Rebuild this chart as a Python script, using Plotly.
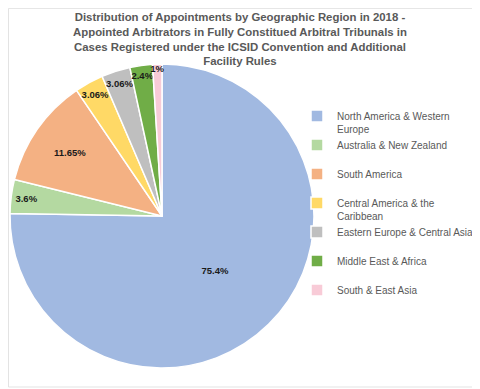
import plotly.graph_objects as go

regions = ["North America & Western<br>Europe", "Australia & New Zealand<br> ", "South America<br> ",
           "Central America & the<br>Caribbean", "Eastern Europe & Central Asia<br> ",
           "Middle East & Africa<br> ", "South & East Asia<br> "]
values = [75.4, 3.6, 11.65, 3.06, 3.06, 2.4, 1.0]
text_labels = ["<b>75.4%</b>", "<b>3.6%</b>", "<b>11.65%</b>", "<b>3.06%</b>", "<b>3.06%</b>", "<b>2.4%</b>", "<b>1%</b>"]
colors = ["#a1b9e1", "#b4d9a1", "#f4b183", "#ffd966", "#bfbfbf", "#70ad47", "#f8cbd7"]
title_lines = ["Distribution of Appointments by Geographic Region in 2018 -",
               "Appointed Arbitrators in Fully Constitued Arbitral Tribunals in",
               "Cases Registered under the ICSID Convention and Additional",
               "Facility Rules"]

# page has an 8px body margin; figure sized to fit the window
W, H, OFF = 472, 381, 8
def X(px): return (px - OFF) / W
def Y(py): return 1 - (py - OFF) / H

fig = go.Figure(go.Pie(
    labels=regions, values=values, text=text_labels, textinfo="text",
    sort=False, direction="clockwise", rotation=0,
    marker=dict(colors=colors, line=dict(color="white", width=1.5)),
    textposition="inside", insidetextorientation="horizontal",
    textfont=dict(family="Arial, Liberation Sans", size=9.5, color="#1a1a1a"),
    domain=dict(x=[X(10), X(314)], y=[Y(368), Y(64)]),
    hoverinfo="label+percent",
))
fig.add_annotation(
    text="<b>" + "<br>".join(title_lines) + "</b>",
    xref="paper", yref="paper", x=X(240), y=Y(9), xanchor="center", yanchor="top",
    showarrow=False, align="center",
    font=dict(family="Arial, Liberation Sans", size=11.4, color="#595959"),
)
fig.add_shape(type="rect", xref="paper", yref="paper",
              x0=0.001, x1=X(477), y0=Y(387), y1=0.999,
              line=dict(color="#e3e3e3", width=1), layer="below")
fig.update_layout(
    width=W, height=H, margin=dict(l=0, r=0, t=0, b=0, autoexpand=False),
    paper_bgcolor="white", plot_bgcolor="white",
    legend=dict(x=X(297), y=Y(103), xanchor="left", yanchor="top", valign="top",
                font=dict(family="Arial, Liberation Sans", size=10, color="#595959"),
                itemwidth=30, tracegroupgap=0, bgcolor="rgba(0,0,0,0)"),
    uniformtext=dict(minsize=9.5, mode="show"),
)
fig.write_html("out.html")
